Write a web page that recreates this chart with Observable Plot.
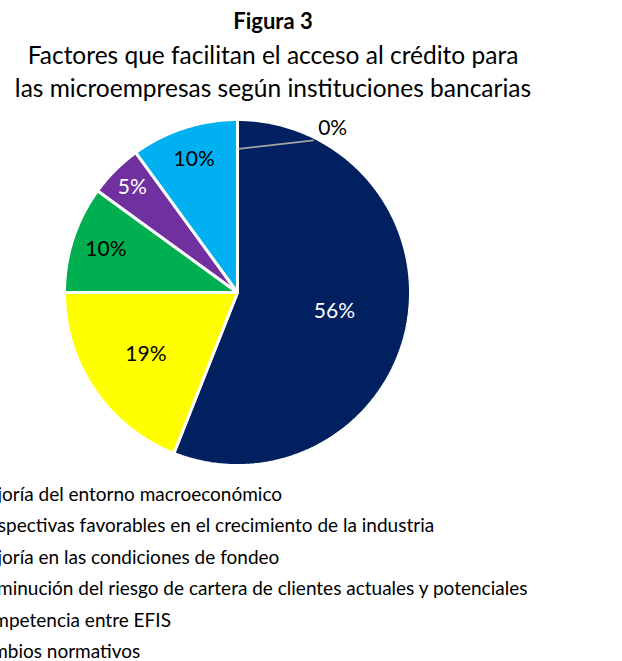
<!DOCTYPE html>
<html>
<head>
<meta charset="utf-8">
<script src="https://cdn.jsdelivr.net/npm/d3@7"></script>
<script src="https://cdn.jsdelivr.net/npm/@observablehq/plot@0.6"></script>
<style>
  html, body { margin: 0; padding: 0; background: #fff; }
  #wrap { position: relative; width: 622px; height: 661px; overflow: hidden; font-family: Lato, "Open Sans", sans-serif; color: #000; }
  #title { position: absolute; left: 0; top: 3px; width: 546px; text-align: center; font-size: 24.5px; line-height: 33.5px; }
  #title b { font-weight: 700; font-size: 22px; }
  #chart { position: absolute; left: 0; top: 105px; }
  #legend { position: absolute; top: 478px; left: -52px; font-size: 19px; line-height: 31.4px; white-space: nowrap; }
  #legend .row { display: flex; align-items: center; }
  #legend .sw { width: 10px; height: 10px; margin-right: 12px; flex: none; }
</style>
</head>
<body>
<div id="wrap">
  <div id="title"><b>Figura 3</b><br>Factores que facilitan el acceso al crédito para<br>las microempresas según instituciones bancarias</div>
  <div id="chart"></div>
  <div id="legend"></div>
</div>
<script>
// Data
const categories = [
  "Mejoría del entorno macroeconómico",
  "Perspectivas favorables en el crecimiento de la industria",
  "Mejoría en las condiciones de fondeo",
  "Disminución del riesgo de cartera de clientes actuales y potenciales",
  "Competencia entre EFIS",
  "Cambios normativos"
];
const values = [56, 19, 10, 5, 10, 0];
const labels = ["56%", "19%", "10%", "5%", "10%", "0%"];

// Styles
const colors = ["#002060", "#FFFF00", "#00B050", "#7030A0", "#00B0F0", "#ED7D31"];
const labelColors = ["#ffffff", "#000000", "#000000", "#ffffff", "#000000", "#000000"];
const labelRadius = [0.57, 0.64, 0.80, 0.86, 0.81, 1.0];

// Slices (clockwise from 12 o'clock, y downward)
const total = d3.sum(values);
let acc = 0;
const slices = values.map((v, i) => {
  const a0 = acc / total * 2 * Math.PI;
  acc += v;
  const a1 = acc / total * 2 * Math.PI;
  return {i, v, a0, a1, name: categories[i], label: labels[i]};
});
const pt = (a, r) => [r * Math.sin(a), -r * Math.cos(a)];
const features = slices.filter(s => s.v > 0).map(s => {
  const n = Math.max(2, Math.ceil((s.a1 - s.a0) / 0.01));
  const ring = [[0, 0]];
  for (let k = 0; k <= n; k++) ring.push(pt(s.a0 + (s.a1 - s.a0) * k / n, 1));
  ring.push([0, 0]);
  return {type: "Feature", properties: {i: s.i}, geometry: {type: "Polygon", coordinates: [ring]}};
});

const labelData = slices.filter(s => s.v > 0).map(s => {
  const [x, y] = pt((s.a0 + s.a1) / 2, labelRadius[s.i]);
  return {x, y, text: s.label, fill: labelColors[s.i]};
});
// zero slice: label placed outside with leader line
const zero = slices.find(s => s.v === 0);
const zeroLabel = [{x: 0.55, y: -0.95, text: zero.label}];
const leader = [{x1: 0.006, y1: -0.83, x2: 0.44, y2: -0.88}];

const R = 173, cx = 237, cy = 187;
const W = 622, H = 370;
const plot = Plot.plot({
  width: W,
  height: H,
  marginLeft: cx - R,
  marginRight: W - (cx + R),
  marginTop: cy - R,
  marginBottom: H - (cy + R),
  projection: {type: "identity", domain: {type: "MultiPoint", coordinates: [[-1, -1], [1, 1]]}},
  style: {fontFamily: "Lato, 'Open Sans', sans-serif", background: "transparent", overflow: "visible"},
  marks: [
    Plot.geo(features, {fill: d => colors[d.properties.i], stroke: "#ffffff", strokeWidth: 3, strokeLinejoin: "miter"}),
    Plot.link(leader, {x1: "x1", y1: "y1", x2: "x2", y2: "y2", stroke: "#a6a6a6", strokeWidth: 1.75}),
    Plot.text(labelData, {x: "x", y: "y", text: "text", fill: "fill", fontSize: 21}),
    Plot.text(zeroLabel, {x: "x", y: "y", text: "text", fill: "#000", fontSize: 21})
  ]
});
document.getElementById("chart").appendChild(plot);

const leg = document.getElementById("legend");
categories.forEach((c, i) => {
  const row = document.createElement("div");
  row.className = "row";
  const sw = document.createElement("span");
  sw.className = "sw";
  sw.style.background = colors[i];
  const t = document.createElement("span");
  t.textContent = c;
  row.appendChild(sw);
  row.appendChild(t);
  leg.appendChild(row);
});
</script>
</body>
</html>
